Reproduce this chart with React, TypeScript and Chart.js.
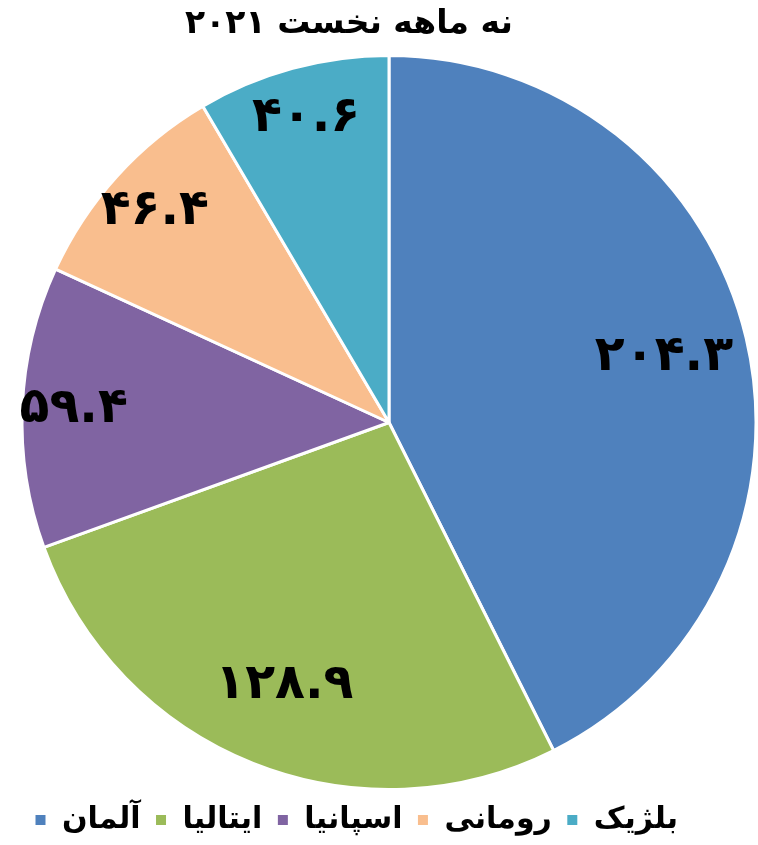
import React, { useEffect, useRef } from "react";
import { Chart, registerables } from "chart.js";

Chart.register(...registerables);

const titleText = "نه ماهه نخست ۲۰۲۱";
const countries = ["آلمان", "ایتالیا", "اسپانیا", "رومانی", "بلژیک"];
const values = [204.3, 128.9, 59.4, 46.4, 40.6];
const valueLabels = ["۲۰۴.۳", "۱۲۸.۹", "۵۹.۴", "۴۶.۴", "۴۰.۶"];
const colors = ["#4F81BD", "#9BBB59", "#8064A2", "#F9BE8E", "#4BACC6"];

const FONT = "'DejaVu Sans', sans-serif";

const labelPlugin = {
  id: "sliceLabels",
  afterDatasetsDraw(chart: any) {
    const ctx = chart.ctx;
    const meta = chart.getDatasetMeta(0);
    ctx.save();
    ctx.font = `bold 49px ${FONT}`;
    ctx.fillStyle = "#000";
    ctx.textAlign = "center";
    ctx.textBaseline = "middle";
    meta.data.forEach((arc: any, i: number) => {
      const { x, y, startAngle, endAngle, outerRadius } = arc.getProps(
        ["x", "y", "startAngle", "endAngle", "outerRadius"],
        true
      );
      const mid = (startAngle + endAngle) / 2;
      const span = endAngle - startAngle;
      const frac = span > Math.PI / 3 ? 0.77 : 0.86;
      const r = outerRadius * frac;
      ctx.fillText(valueLabels[i], x + Math.cos(mid) * r, y + Math.sin(mid) * r);
    });
    ctx.restore();
  },
};

const titlePlugin = {
  id: "offsetTitle",
  afterDraw(chart: any) {
    const ctx = chart.ctx;
    const area = chart.chartArea;
    ctx.save();
    ctx.font = `bold 33px ${FONT}`;
    ctx.fillStyle = "#000";
    ctx.textAlign = "center";
    ctx.textBaseline = "middle";
    ctx.fillText(titleText, (area.left + area.right) / 2 - 40, 24);
    ctx.restore();
  },
};

export default function App() {
  const ref = useRef<HTMLCanvasElement>(null);
  useEffect(() => {
    if (!ref.current) return;
    const chart = new Chart(ref.current, {
      type: "pie",
      data: {
        labels: countries,
        datasets: [
          {
            data: values,
            backgroundColor: colors,
            borderColor: "#FFFFFF",
            borderWidth: 3,
          },
        ],
      },
      options: {
        animation: false,
        responsive: true,
        maintainAspectRatio: false,
        layout: { padding: { left: 20, right: 0, top: 54, bottom: 0 } },
        plugins: {
          title: { display: false },
          legend: {
            position: "bottom",
            align: "start",
            labels: {
              color: "#000",
              font: { family: FONT, size: 30, weight: "bold" },
              boxWidth: 13,
              boxHeight: 13,
              padding: 14,
            },
          },
          tooltip: { enabled: false },
        },
      },
      plugins: [labelPlugin, titlePlugin],
    });
    return () => chart.destroy();
  }, []);
  return (
    <div style={{ position: "absolute", left: 0, top: 0, width: 758, height: 845, background: "#fff" }}>
      <canvas ref={ref} />
    </div>
  );
}
